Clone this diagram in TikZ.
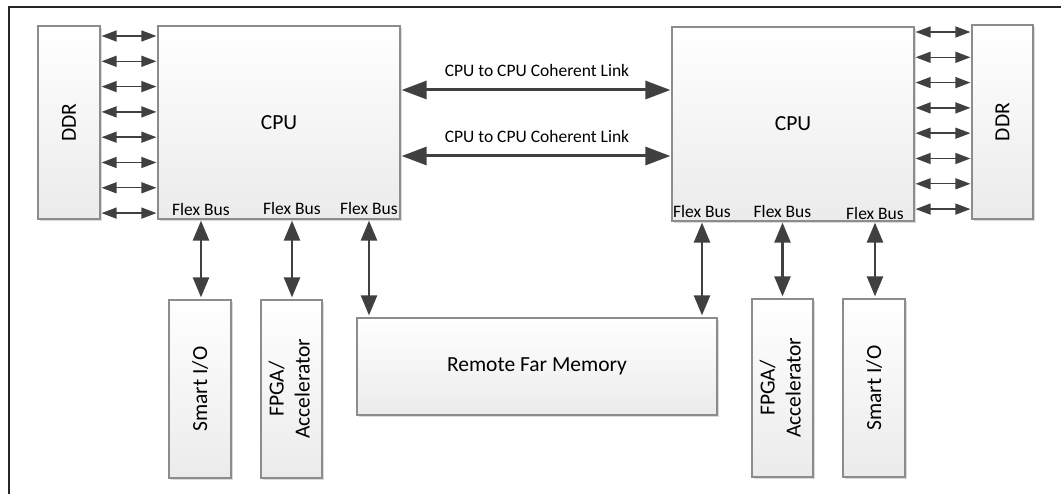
\documentclass[tikz,border=0pt]{standalone}
\usepackage{fontspec}
\setmainfont{Carlito}
\usetikzlibrary{arrows.meta,shadows}
\definecolor{arrowgray}{HTML}{404040}
\definecolor{boxline}{HTML}{8C8C8C}
\definecolor{boxbot}{HTML}{EBEBEB}
\definecolor{framecol}{HTML}{262626}

\begin{document}
\begin{tikzpicture}[x=1pt, y=-1pt,
  box/.style={draw=boxline, line width=1.2pt, top color=white, bottom color=boxbot, inner sep=0pt,
    drop shadow={shadow xshift=2pt, shadow yshift=-2pt, fill=black!14, opacity=1}},
  big/.style={font=\fontsize{21.5}{26}\selectfont},
  small/.style={font=\fontsize{17.5}{21}\selectfont, inner sep=0pt},
  ddrbus/.style={{Triangle[width=11pt,length=15pt]}-{Triangle[width=11pt,length=15pt]}, line width=1.4pt, draw=arrowgray, shorten <=1pt, shorten >=1pt},
  bus/.style={{Triangle[width=16pt,length=20pt]}-{Triangle[width=16pt,length=20pt]}, line width=2.4pt, draw=arrowgray, shorten <=1pt, shorten >=2pt},
  link/.style={{Triangle[width=18pt,length=25pt]}-{Triangle[width=18pt,length=25pt]}, line width=3pt, draw=arrowgray, shorten <=1pt, shorten >=1pt}]
\useasboundingbox (0,0) rectangle (1061,494);
\draw[framecol, line width=1.5pt] (9,494) -- (9,7) -- (1061,7);

% left side
\node[box, big, minimum width=62pt, minimum height=193pt] (ddrL) at (69,122.5) {\rotatebox{90}{DDR}};
\node[box, big, minimum width=242pt, minimum height=193pt] (cpuL) at (279,122.5) {CPU};
\node[box, big, minimum width=62pt, minimum height=178pt] (smL) at (200,389) {\rotatebox{90}{Smart I/O}};
\node[box, big, minimum width=61pt, minimum height=178pt] (fpL) at (291.5,389) {\rotatebox{90}{\begin{tabular}{@{}c@{}}FPGA/\\Accelerator\end{tabular}}};

% right side
\node[box, big, minimum width=242pt, minimum height=194pt] (cpuR) at (793,124) {CPU};
\node[box, big, minimum width=61pt, minimum height=194pt] (ddrR) at (1002.5,122) {\rotatebox{90}{DDR}};
\node[box, big, minimum width=61pt, minimum height=178pt] (fpR) at (782.5,388) {\rotatebox{90}{\begin{tabular}{@{}c@{}}FPGA/\\Accelerator\end{tabular}}};
\node[box, big, minimum width=62pt, minimum height=178pt] (smR) at (874,388) {\rotatebox{90}{Smart I/O}};

\node[box, big, minimum width=360pt, minimum height=97pt] (mem) at (537,366.5) {Remote Far Memory};

% flex bus labels
\node[small] (fbL1) at (201,209) {Flex Bus};
\node[small] (fbL2) at (292,208) {Flex Bus};
\node[small] (fbL3) at (369,208) {Flex Bus};
\node[small] (fbR1) at (702,211) {Flex Bus};
\node[small] (fbR2) at (782.5,211) {Flex Bus};
\node[small] (fbR3) at (875,213) {Flex Bus};

% coherent links
\node[small] (lk1) at (537,70) {CPU to CPU Coherent Link};
\node[small] (lk2) at (537,136) {CPU to CPU Coherent Link};
\draw[link] (cpuL.east |- 0,90) -- (cpuR.west |- 0,90);
\draw[link] (cpuL.east |- 0,156) -- (cpuR.west |- 0,156);

% memory channels
\foreach \i in {0,...,7}{
  \draw[ddrbus] (ddrL.east |- 0,{36+25.3*\i}) -- (cpuL.west |- 0,{36+25.3*\i});
  \draw[ddrbus] (cpuR.east |- 0,{32+25.3*\i}) -- (ddrR.west |- 0,{32+25.3*\i});
}

% flex bus connections
\draw[bus] (fbL1 |- cpuL.south) -- (fbL1 |- smL.north);
\draw[bus] (fbL2 |- cpuL.south) -- (fbL2 |- fpL.north);
\draw[bus] (fbL3 |- cpuL.south) -- (fbL3 |- mem.north);
\draw[bus] (fbR1 |- cpuR.south) -- (fbR1 |- mem.north);
\draw[bus] (fbR2 |- cpuR.south) -- (fbR2 |- fpR.north);
\draw[bus] (fbR3 |- cpuR.south) -- (fbR3 |- smR.north);
\end{tikzpicture}
\end{document}
